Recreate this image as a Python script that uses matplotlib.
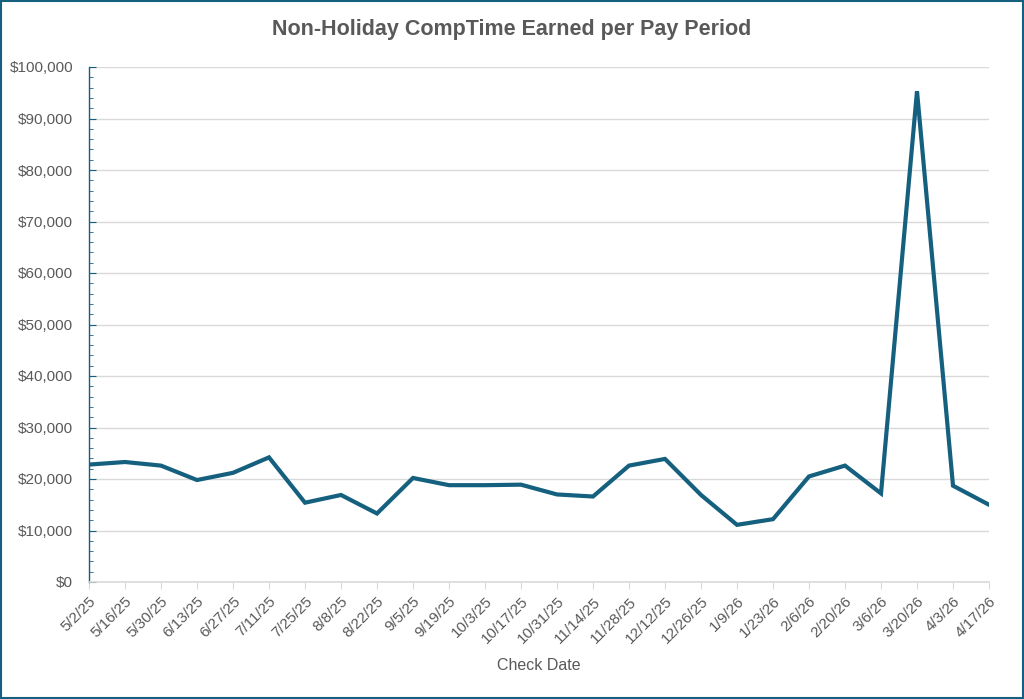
import matplotlib.pyplot as plt
from matplotlib.ticker import MultipleLocator, FuncFormatter
from matplotlib.patches import Rectangle

# Pay period check dates and comp time earned (USD)
dates = ["5/2/25", "5/16/25", "5/30/25", "6/13/25", "6/27/25", "7/11/25",
         "7/25/25", "8/8/25", "8/22/25", "9/5/25", "9/19/25", "10/3/25",
         "10/17/25", "10/31/25", "11/14/25", "11/28/25", "12/12/25",
         "12/26/25", "1/9/26", "1/23/26", "2/6/26", "2/20/26", "3/6/26",
         "3/20/26", "4/3/26", "4/17/26"]
comp_time = [22800, 23300, 22600, 19800, 21200, 24200,
             15400, 16900, 13300, 20200, 18800, 18800,
             18900, 17000, 16600, 22600, 23900,
             16900, 11100, 12200, 20500, 22600, 17200,
             95300, 18700, 15000]

line_color = "#15607f"
text_color = "#595959"
grid_color = "#d9d9d9"

plt.rcParams['font.family'] = ['Liberation Sans', 'DejaVu Sans']

fig = plt.figure(figsize=(10.24, 6.99), dpi=100)
ax = fig.add_axes([89 / 1024, 1 - 582 / 699, 900 / 1024, 515 / 699])

x = list(range(len(dates)))
ax.plot(x, comp_time, color=line_color, lw=3, solid_joinstyle='miter')

ax.set_xlim(0, len(dates) - 1)
ax.set_ylim(0, 100000)
ax.yaxis.set_major_locator(MultipleLocator(10000))
ax.yaxis.set_minor_locator(MultipleLocator(2000))
ax.yaxis.set_major_formatter(FuncFormatter(lambda v, p: f"${v:,.0f}"))
ax.grid(axis='y', color=grid_color, lw=1)
ax.set_axisbelow(True)

ax.set_xticks(x)
ax.set_xticklabels(dates, rotation=45, ha='right', rotation_mode='anchor')

for s in ['top', 'right']:
    ax.spines[s].set_visible(False)
ax.spines['left'].set_color(line_color)
ax.spines['left'].set_linewidth(1)
ax.spines['bottom'].set_color(grid_color)
ax.spines['bottom'].set_linewidth(1.2)

ax.tick_params(axis='y', which='major', direction='in', length=5, color=line_color,
               labelsize=11, labelcolor=text_color, pad=11.5)
ax.tick_params(axis='y', which='minor', direction='in', length=3, color=line_color)
ax.tick_params(axis='x', direction='out', length=5, color=grid_color,
               labelsize=11, labelcolor=text_color, pad=4)

ax.set_xlabel("Check Date", fontsize=11.5, color=text_color, labelpad=8)
fig.text(0.5, 1 - 30 / 699, "Non-Holiday CompTime Earned per Pay Period",
         ha='center', va='center', fontsize=15.5, fontweight='bold',
         color=text_color)

# chart border
fig.patches.append(Rectangle((0.001, 0.001), 0.998, 0.998, transform=fig.transFigure,
                             fill=False, edgecolor=line_color, lw=1.5))

fig.savefig("out.png", dpi=100)
